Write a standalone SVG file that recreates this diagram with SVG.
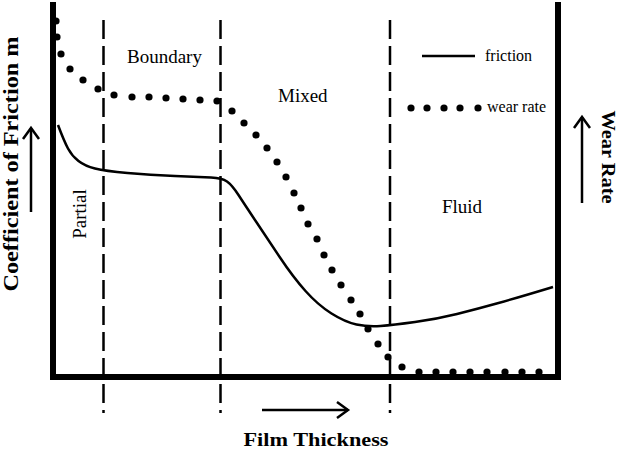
<svg xmlns="http://www.w3.org/2000/svg" width="619" height="452" viewBox="0 0 619 452">
<style>
.t{font-family:"Liberation Serif","Times New Roman",serif;fill:#000}
.b{font-weight:bold}
.dash{stroke:#000;stroke-width:2.5;stroke-dasharray:19 7;fill:none}
.dot{fill:#000}
.arr{stroke:#000;stroke-width:2.5;fill:none}
</style>
<defs>
<marker id="chev" markerUnits="userSpaceOnUse" markerWidth="30" markerHeight="30" viewBox="-15 -15 30 30" refX="0" refY="0" orient="auto">
<path d="M-11,-8 L0,0 L-11,8" fill="none" stroke="#000" stroke-width="2.5" stroke-linejoin="miter"/>
</marker>
</defs>
<rect width="619" height="452" fill="#fff"/>
<g id="axes">
<path d="M53,2 L53,377 L558,377 L558,2" fill="none" stroke="#000" stroke-width="6" stroke-linejoin="miter"/>
</g>
<g id="regions">
<line class="dash" x1="103.5" y1="20" x2="103.5" y2="413"/>
<line class="dash" x1="220.5" y1="20" x2="220.5" y2="413"/>
<line class="dash" x1="390" y1="20" x2="390" y2="413"/>
</g>
<g id="friction-curve">
<path d="M58,125 Q64,141 68,148.5 Q72,156 78.5,161 Q85,166 95,168.5 Q105,171 127.5,173 Q150,175 175,176 Q200,177 211,177.5 Q222,178 227,181.5 Q232,185 238.5,195 Q245,205 256,221.5 Q267,238 280,257.5 Q293,277 305.5,291 Q318,305 331.5,313.5 Q345,322 356.5,324.5 Q368,327 380.5,326 Q393,325 415,322 Q437,319 457,314 Q477,309 498.5,303 Q520,297 553,287" fill="none" stroke="#000" stroke-width="2.5"/>
</g>
<g id="wear-rate-curve" class="dot">
<circle cx="56" cy="21" r="3.6"/><circle cx="57" cy="37" r="3.6"/><circle cx="61" cy="54" r="3.6"/>
<circle cx="70" cy="69" r="3.6"/><circle cx="83" cy="80" r="3.6"/><circle cx="98" cy="89" r="3.6"/>
<circle cx="114" cy="95" r="3.6"/><circle cx="132" cy="97" r="3.6"/><circle cx="149" cy="97" r="3.6"/>
<circle cx="166" cy="98" r="3.6"/><circle cx="183" cy="99" r="3.6"/><circle cx="200" cy="100" r="3.6"/>
<circle cx="217" cy="101" r="3.6"/><circle cx="232" cy="111" r="3.6"/><circle cx="244" cy="123" r="3.6"/>
<circle cx="256" cy="135" r="3.6"/><circle cx="267" cy="148" r="3.6"/><circle cx="277" cy="162" r="3.6"/>
<circle cx="286" cy="177" r="3.6"/><circle cx="294" cy="193" r="3.6"/><circle cx="301" cy="208" r="3.6"/>
<circle cx="308" cy="224" r="3.6"/><circle cx="317" cy="239" r="3.6"/><circle cx="324" cy="255" r="3.6"/>
<circle cx="332" cy="270" r="3.6"/><circle cx="341" cy="285" r="3.6"/><circle cx="351" cy="300" r="3.6"/>
<circle cx="360" cy="314" r="3.6"/><circle cx="368" cy="329" r="3.6"/><circle cx="378" cy="344" r="3.6"/>
<circle cx="388" cy="357" r="3.6"/><circle cx="402" cy="367" r="3.6"/><circle cx="419" cy="372" r="3.6"/>
<circle cx="436" cy="372" r="3.6"/><circle cx="453" cy="372" r="3.6"/><circle cx="470" cy="372" r="3.6"/>
<circle cx="487" cy="372" r="3.6"/><circle cx="505" cy="372" r="3.6"/><circle cx="522" cy="372" r="3.6"/>
<circle cx="539" cy="372" r="3.6"/>
</g>
<g id="legend">
<line x1="422" y1="56" x2="475" y2="56" stroke="#000" stroke-width="2.5"/>
<text class="t" x="485" y="61" font-size="16">friction</text>
<g class="dot"><circle cx="411" cy="108" r="3.6"/><circle cx="427" cy="108" r="3.6"/><circle cx="444" cy="108" r="3.6"/><circle cx="460" cy="108" r="3.6"/><circle cx="478" cy="108" r="3.6"/></g>
<text class="t" x="487" y="112" font-size="16">wear rate</text>
</g>
<g id="region-labels">
<text class="t" x="127" y="63" font-size="19">Boundary</text>
<text class="t" x="278" y="102" font-size="19">Mixed</text>
<text class="t" x="442" y="213" font-size="19">Fluid</text>
<text class="t" font-size="19" text-anchor="middle" transform="translate(86,214) rotate(-90)">Partial</text>
</g>
<g id="axis-labels">
<text class="t b" font-size="21" text-anchor="middle" textLength="255" lengthAdjust="spacingAndGlyphs" transform="translate(18,164) rotate(-90)">Coefficient of Friction m</text>
<text class="t b" font-size="18" text-anchor="middle" textLength="93" lengthAdjust="spacingAndGlyphs" transform="translate(602,157) rotate(90)">Wear Rate</text>
<text class="t b" x="316" y="446" font-size="19" text-anchor="middle" textLength="145" lengthAdjust="spacingAndGlyphs">Film Thickness</text>
</g>
<g id="connectors">
<line class="arr" x1="31" y1="212" x2="31" y2="128" marker-end="url(#chev)"/>
<line class="arr" x1="582" y1="203" x2="582" y2="117" marker-end="url(#chev)"/>
<line class="arr" x1="262" y1="410" x2="348" y2="410" marker-end="url(#chev)"/>
</g>
</svg>
